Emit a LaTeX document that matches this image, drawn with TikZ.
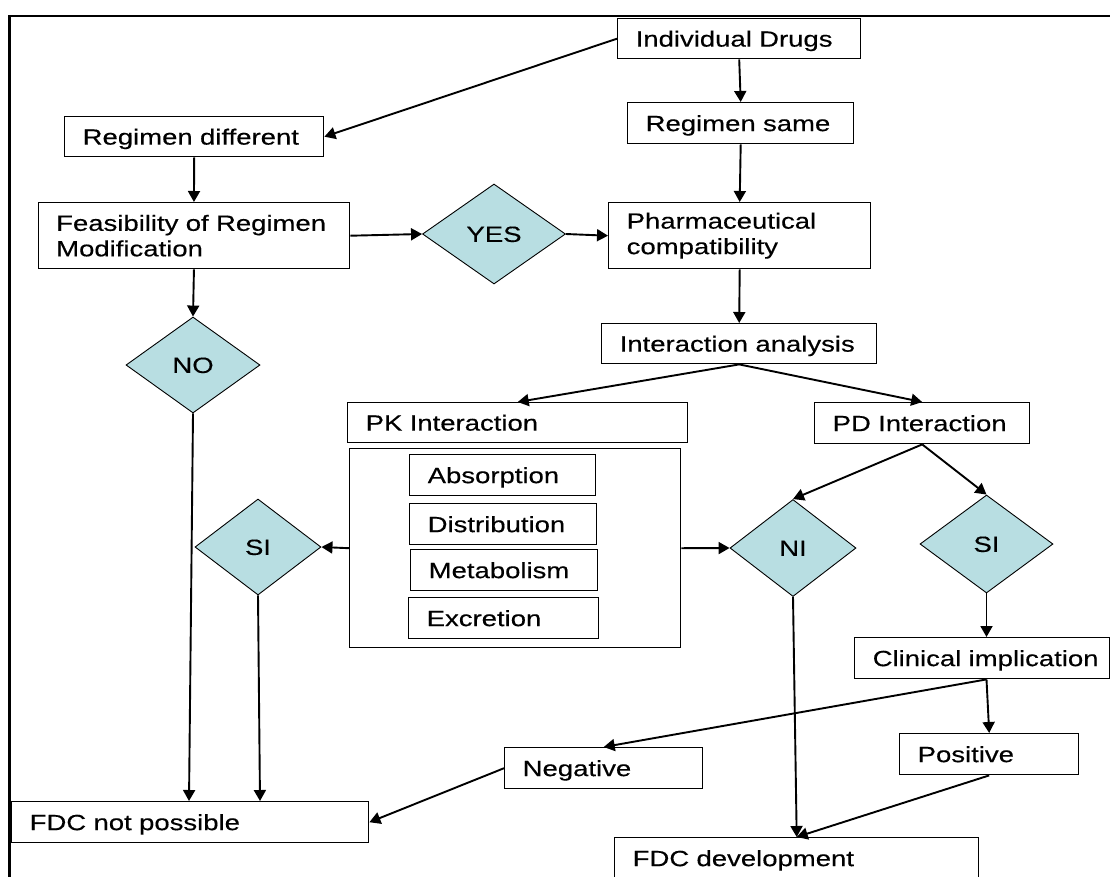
\documentclass[tikz,border=0pt]{standalone}
\usepackage{fontspec}
\setmainfont{Liberation Sans}[FakeStretch=1.25,FakeBold=0.35]
\usetikzlibrary{shapes.geometric,arrows.meta}
\definecolor{dfill}{RGB}{184,222,226}
\hyphenpenalty=10000
\exhyphenpenalty=10000
\begin{document}
\begin{tikzpicture}[x=1pt,y=-1pt,
  every node/.style={font=\fontsize{22pt}{25.5pt}\selectfont},
  box/.style={draw, line width=1.4pt, rectangle, anchor=north west,
    inner xsep=18pt, inner ysep=0pt, align=left, minimum height=41pt},
  one/.style={text height=15.8pt, text depth=0pt},
  dia/.style={draw, line width=0.9pt, diamond, fill=dfill, aspect=1.4,
    inner sep=0pt, text height=15.8pt, text depth=0pt},
  arr/.style={line width=1.9pt, -{Triangle[length=11pt,width=12pt]}},
  ln/.style={line width=1.4pt}
]
\useasboundingbox (0,0) rectangle (1110,876);
\draw[line width=2.2pt] (9.5,880) -- (9.5,16) -- (1115,16);

% boxes
\node[box,one,text width=207pt,minimum height=40pt] (ind) at (617,18) {\mbox{Individual Drugs}};
\node[box,one,text width=223pt,minimum height=40pt] (rdiff) at (64,116) {\mbox{Regimen different}};
\node[box,one,text width=190pt] (rsame) at (627,102) {\mbox{Regimen same}};
\node[box,text width=275.5pt,minimum height=66pt] (feas) at (37.5,202) {\mbox{Feasibility of Regimen}\\Modification};
\node[box,text width=226pt,minimum height=66pt] (pharm) at (608,202) {Pharmaceutical\\compatibility};
\node[box,one,text width=239pt,minimum height=40pt] (ia) at (601,323) {\mbox{Interaction analysis}};
\node[box,one,text width=304pt,minimum height=40pt] (pk) at (347,402) {\mbox{PK Interaction}};
\node[box,one,text width=179pt] (pd) at (814,402) {\mbox{PD Interaction}};
\node[draw, ln, rectangle, anchor=north west, minimum width=331pt, minimum height=199pt, inner sep=0pt] (pkc) at (349,448) {};
\node[box,one,text width=150pt] (abs) at (409,454) {Absorption};
\node[box,one,text width=151pt] (dist) at (409,503) {Distribution};
\node[box,one,text width=151pt] (meta) at (410,549) {Metabolism};
\node[box,one,text width=154pt] (exc) at (408,597) {Excretion};
\node[box,one,text width=219pt,minimum height=41pt] (clin) at (854,637) {\mbox{Clinical implication}};
\node[box,one,text width=162pt] (neg) at (504,747) {Negative};
\node[box,one,text width=143pt] (pos) at (899,733) {Positive};
\node[box,one,text width=321pt] (fdcn) at (11,801) {\mbox{FDC not possible}};
\node[box,one,text width=328pt] (fdcd) at (614,837) {\mbox{FDC development}};

% diamonds
\node[dia,minimum width=143pt,minimum height=100pt] (yes) at (494,234) {YES};
\node[dia,minimum width=134pt,minimum height=96pt] (no) at (193,365) {NO};
\node[dia,minimum width=126pt,minimum height=96pt] (sil) at (258,547) {SI};
\node[dia,minimum width=126pt,minimum height=97pt] (ni) at (793,548) {NI};
\node[dia,minimum width=133pt,minimum height=98pt] (sir) at (986.5,544) {SI};

% connectors
\draw[arr] (ind.west) -- (rdiff.east);
\draw[arr] (ind.south) -- (rsame.north);
\draw[arr] (rsame.south) -- (pharm.north);
\draw[arr] (rdiff.south) -- (feas.north);
\draw[arr] (feas.east) -- (yes.west);
\draw[arr] (yes.east) -- (pharm.west);
\draw[arr] (feas.south) -- (no.north);
\draw[arr] (pharm.south) -- (ia.north);
\draw[arr] (ia.south) -- (pk.north);
\draw[arr] (ia.south) -- (pd.north);
\draw[arr] (pd.south) -- (ni.north);
\draw[arr] (pd.south) -- (sir.north);
\draw[arr] (pkc.west) -- (sil.east);
\draw[arr] (pkc.east) -- (ni.west);
\draw[arr] (no.south) -- ([xshift=-4pt]no.south |- fdcn.north);
\draw[arr] (sil.south) -- ([xshift=2pt]sil.south |- fdcn.north);
\draw[arr] (sir.south) -- (sir.south |- clin.north);
\draw[arr] (clin.south -| sir.south) -- (neg.north);
\draw[arr] (clin.south -| sir.south) -- (pos.north);
\draw[arr] (pos.south) -- (fdcd.north);
\draw[arr] (ni.south) -- (fdcd.north);
\draw[arr] (neg.west) -- (fdcn.east);
\end{tikzpicture}
\end{document}
